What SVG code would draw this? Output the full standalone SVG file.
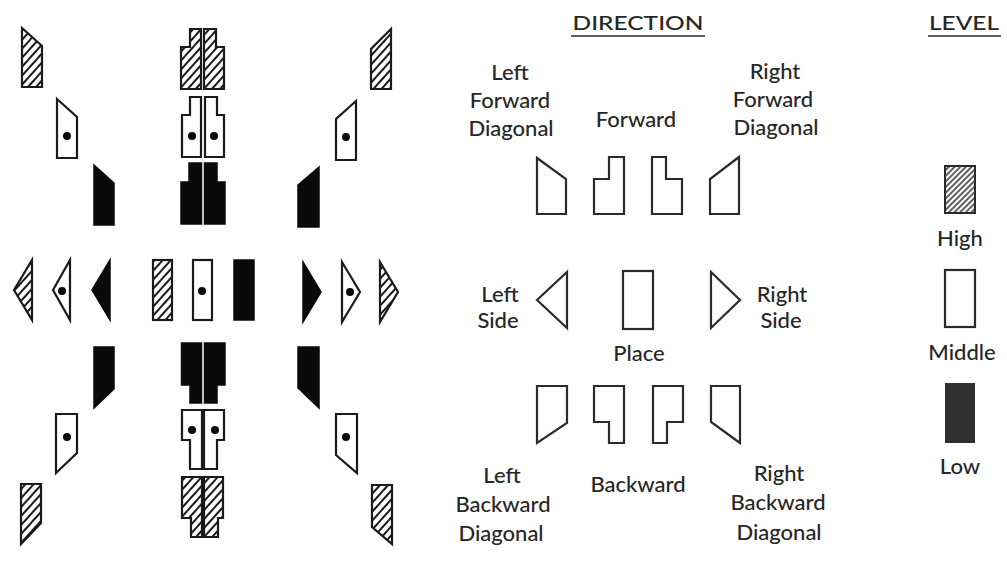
<svg xmlns="http://www.w3.org/2000/svg" width="1007" height="572" viewBox="0 0 1007 572">
<defs>
<pattern id="hatch" patternUnits="userSpaceOnUse" width="6" height="6" patternTransform="rotate(42)">
<rect width="6" height="6" fill="#fff"/>
<line x1="1" y1="0" x2="1" y2="6" stroke="#1a1a1a" stroke-width="2"/>
</pattern>
<pattern id="hatch2" patternUnits="userSpaceOnUse" width="4" height="4" patternTransform="rotate(45)">
<rect width="4" height="4" fill="#fff"/>
<line x1="1" y1="0" x2="1" y2="4" stroke="#2a2a2a" stroke-width="1.5"/>
</pattern>
</defs>
<style>
.hi{fill:url(#hatch);stroke:#1a1a1a;stroke-width:2.2;stroke-linejoin:miter}
.mi{fill:#fff;stroke:#1a1a1a;stroke-width:2.2;stroke-linejoin:miter}
.lo{fill:#0a0a0a;stroke:#0a0a0a;stroke-width:1.5}
.dot{fill:#0a0a0a}
.ol{fill:none;stroke:#2a2a2a;stroke-width:2.2;stroke-linejoin:miter}
text{font-family:Lato,"Open Sans","DejaVu Sans",sans-serif;fill:#262626;font-size:22px;text-anchor:middle;font-weight:500}
.hd{font-size:20px}
.ul{stroke:#262626;stroke-width:1.6}
</style>
<rect width="1007" height="572" fill="#fff"/>

<!-- LEFT: full set of direction symbols -->
<g id="lfd-high"><polygon class="hi" points="22,28 42,46 42,87 22,87"/></g>
<g id="lfd-mid"><polygon class="mi" points="57,99 77,117 77,158 57,158"/><circle class="dot" cx="67" cy="136" r="4"/></g>
<g id="lfd-low"><polygon class="lo" points="94,165 114,183 114,225 94,225"/></g>

<g id="fwd-high">
<polygon class="hi" points="190,29 201,29 201,89 181,89 181,47 190,47"/>
<polygon class="hi" points="204,29 216,29 216,47 224,47 224,89 204,89"/>
</g>
<g id="fwd-mid">
<polygon class="mi" points="190,97 201,97 201,157 182,157 182,115 190,115"/>
<polygon class="mi" points="205,97 217,97 217,115 224,115 224,157 205,157"/>
<circle class="dot" cx="192" cy="136" r="4"/><circle class="dot" cx="214" cy="136" r="4"/>
</g>
<g id="fwd-low">
<polygon class="lo" points="189,163 201.5,163 201.5,224 181,224 181,182 189,182"/>
<polygon class="lo" points="204.5,163 217,163 217,182 225,182 225,224 204.5,224"/>
</g>

<g id="rfd-high"><polygon class="hi" points="391,29 371,49 371,89 391,89"/></g>
<g id="rfd-mid"><polygon class="mi" points="356,101 336,119 336,160 356,160"/><circle class="dot" cx="346" cy="137" r="4"/></g>
<g id="rfd-low"><polygon class="lo" points="319,167 298,185 298,227 319,227"/></g>

<g id="ls-high"><polygon class="hi" points="14,290 32,260 32,320"/></g>
<g id="ls-mid"><polygon class="mi" points="53,290 70,260 70,320"/><circle class="dot" cx="62" cy="291" r="4"/></g>
<g id="ls-low"><polygon class="lo" points="92,290 110,260 110,320"/></g>

<g id="place-high"><rect class="hi" x="153" y="260" width="19" height="60"/></g>
<g id="place-mid"><rect class="mi" x="193" y="260" width="19" height="60"/><circle class="dot" cx="202" cy="291" r="4"/></g>
<g id="place-low"><rect class="lo" x="234" y="260" width="20" height="60"/></g>

<g id="rs-low"><polygon class="lo" points="303,262 321,292 303,322"/></g>
<g id="rs-mid"><polygon class="mi" points="342,262 360,292 342,322"/><circle class="dot" cx="350" cy="292" r="4"/></g>
<g id="rs-high"><polygon class="hi" points="380,262 398,292 380,322"/></g>

<g id="lbd-low"><polygon class="lo" points="94,347 114,347 114,389 94,408"/></g>
<g id="lbd-mid"><polygon class="mi" points="56,414 77,414 77,453 56,473"/><circle class="dot" cx="67" cy="437" r="4"/></g>
<g id="lbd-high"><polygon class="hi" points="21,484 41,484 41,523 21,544"/></g>

<g id="bwd-low">
<polygon class="lo" points="181.5,343 201.5,343 201.5,403 190,403 190,385 181.5,385"/>
<polygon class="lo" points="204.5,343 225,343 225,385 217,385 217,403 204.5,403"/>
</g>
<g id="bwd-mid">
<polygon class="mi" points="182,410 202,410 202,469 190,469 190,440 182,440"/>
<polygon class="mi" points="204,410 224,410 224,440 217,440 217,469 204,469"/>
<circle class="dot" cx="192" cy="430" r="4"/><circle class="dot" cx="215" cy="430" r="4"/>
</g>
<g id="bwd-high">
<polygon class="hi" points="182,477 202,477 202,537 191,537 191,518 182,518"/>
<polygon class="hi" points="204,477 223,477 223,518 218,518 218,537 204,537"/>
</g>

<g id="rbd-low"><polygon class="lo" points="298,347 319,347 319,408 298,388"/></g>
<g id="rbd-mid"><polygon class="mi" points="336,414 357,414 357,473 336,455"/><circle class="dot" cx="346" cy="437" r="4"/></g>
<g id="rbd-high"><polygon class="hi" points="372,485 392,485 392,544 372,527"/></g>

<!-- RIGHT: legend -->
<g id="title-direction"><text class="hd" x="638" y="30" textLength="131" lengthAdjust="spacingAndGlyphs">DIRECTION</text><line class="ul" x1="571" y1="36" x2="705" y2="36"/></g>
<g id="title-level"><text class="hd" x="964" y="30" textLength="70" lengthAdjust="spacingAndGlyphs">LEVEL</text><line class="ul" x1="928" y1="36" x2="1001" y2="36"/></g>

<g id="leg-lfd"><polygon class="ol" points="537,158 566,179 566,214 537,214"/>
<text x="510" y="80">Left</text><text x="510" y="108">Forward</text><text x="511" y="136">Diagonal</text></g>
<g id="leg-fwd"><polygon class="ol" points="594,179 609,179 609,157 624,157 624,214 594,214"/>
<polygon class="ol" points="652,157 666,157 666,179 682,179 682,214 652,214"/>
<text x="636" y="127">Forward</text></g>
<g id="leg-rfd"><polygon class="ol" points="739,157 710,179 710,214 739,214"/>
<text x="775" y="79">Right</text><text x="773" y="107">Forward</text><text x="776" y="135">Diagonal</text></g>

<g id="leg-ls"><polygon class="ol" points="537,300 567,272 567,328"/>
<text x="500" y="302">Left</text><text x="498" y="328">Side</text></g>
<g id="leg-place"><rect class="ol" x="623" y="271" width="30" height="58"/>
<text x="639" y="361">Place</text></g>
<g id="leg-rs"><polygon class="ol" points="711,272 740,300 711,328"/>
<text x="782" y="302">Right</text><text x="781" y="328">Side</text></g>

<g id="leg-lbd"><polygon class="ol" points="537,386 567,386 567,423 537,443"/>
<text x="502" y="483">Left</text><text x="503" y="512">Backward</text><text x="501" y="541">Diagonal</text></g>
<g id="leg-bwd"><polygon class="ol" points="594,386 624,386 624,443 609,443 609,422 594,422"/>
<polygon class="ol" points="653,386 683,386 683,422 667,422 667,443 653,443"/>
<text x="638" y="492">Backward</text></g>
<g id="leg-rbd"><polygon class="ol" points="711,386 740,386 740,443 711,422"/>
<text x="779" y="481">Right</text><text x="778" y="510">Backward</text><text x="779" y="540">Diagonal</text></g>

<g id="level-high"><rect x="945" y="166" width="30" height="47" fill="url(#hatch2)" stroke="#2a2a2a" stroke-width="2"/><text x="960" y="246">High</text></g>
<g id="level-mid"><rect class="ol" x="945" y="270" width="30" height="57"/><text x="962" y="360">Middle</text></g>
<g id="level-low"><rect x="945" y="383" width="30" height="60" fill="#303030"/><text x="960" y="474">Low</text></g>
</svg>
